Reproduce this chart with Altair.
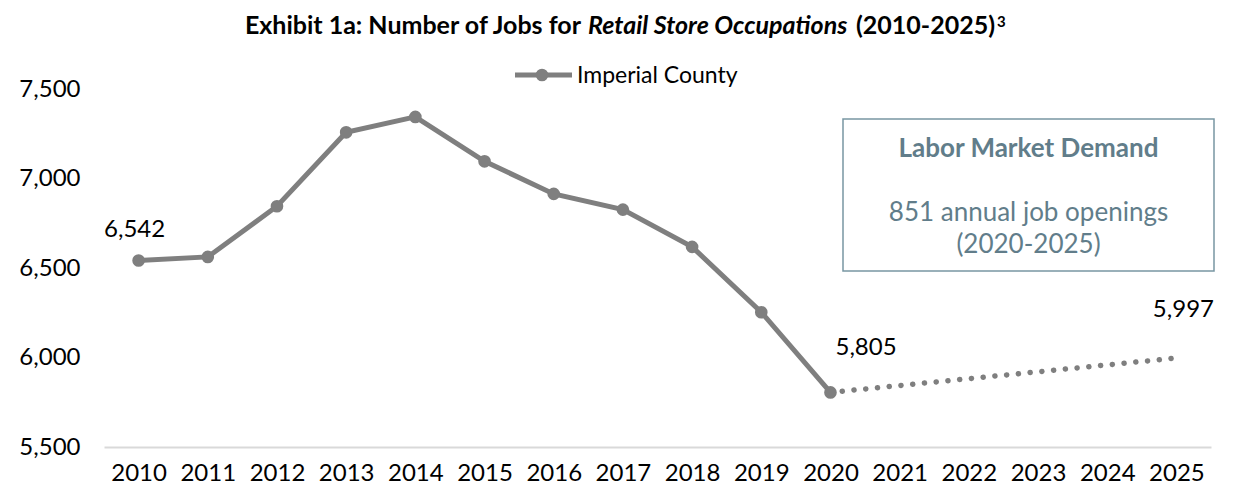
import altair as alt
import pandas as pd

# ---- data ----
years = [2010, 2011, 2012, 2013, 2014, 2015, 2016, 2017, 2018, 2019, 2020]
jobs = [6542, 6562, 6845, 7258, 7344, 7096, 6914, 6826, 6618, 6253, 5805]
proj_years = [2020, 2025]
proj_jobs = [5805, 5997]
tick_years = list(range(2010, 2026))
y_ticks = [5500, 6000, 6500, 7000, 7500]
label_years = [2010, 2020, 2025]
label_values = [6542, 5805, 5997]
series_name = "Imperial County"

FONT = "Lato"
GRAY = "#7f7f7f"
BOX_EDGE = "#7896a3"
BOX_TEXT = "#617d8a"

hist = pd.DataFrame({"year": years, "jobs": jobs})
proj = pd.DataFrame({"year": proj_years, "jobs": proj_jobs})
labs = pd.DataFrame({"year": label_years, "jobs": label_values})

W, H = 1107, 358

xs = alt.Scale(domain=[2009.5, 2025.5], nice=False, zero=False)
ys = alt.Scale(domain=[5500, 7500], nice=False, zero=False)

x_enc = alt.X("year:Q", scale=xs,
              axis=alt.Axis(values=tick_years, format="d", title=None, grid=False,
                            ticks=False, domain=True, domainColor="#d9d9d9", domainWidth=2,
                            labelFont=FONT, labelFontSize=24, labelColor="#000000",
                            labelPadding=14, labelFlush=False, labelOverlap=False))
y_enc = alt.Y("jobs:Q", scale=ys,
              axis=alt.Axis(values=y_ticks, format=",d", title=None, grid=False,
                            ticks=False, domain=False,
                            labelFont=FONT, labelFontSize=24, labelColor="#000000",
                            labelPadding=24))

line = alt.Chart(hist).mark_line(color=GRAY, strokeWidth=5).encode(x=x_enc, y=y_enc)
pts = alt.Chart(hist).mark_point(filled=True, color=GRAY, size=160, opacity=1).encode(
    x="year:Q", y="jobs:Q")
dots = alt.Chart(proj).mark_line(color=GRAY, strokeWidth=5.5, strokeDash=[0.1, 11.7],
                                 strokeCap="round").encode(x="year:Q", y="jobs:Q")

def value_label(yr, dx, dy, align):
    return alt.Chart(labs).transform_filter(alt.datum.year == yr).mark_text(
        font=FONT, fontSize=24, color="#000000", align=align, baseline="middle",
        dx=dx, dy=dy).encode(x="year:Q", y="jobs:Q", text=alt.Text("jobs:Q", format=",d"))

lab1 = value_label(2010, -4, -30, "center")
lab2 = value_label(2020, 5, -44, "left")
lab3 = value_label(2025, 7, -48, "center")

one = pd.DataFrame({"k": [0]})

# legend (manual)
leg_line = alt.Chart(one).mark_rule(color=GRAY, strokeWidth=5).encode(
    x=alt.value(411), x2=alt.value(468), y=alt.value(-14))
leg_pt = alt.Chart(one).mark_point(filled=True, color=GRAY, size=160, opacity=1).encode(
    x=alt.value(438), y=alt.value(-14))
leg_txt = alt.Chart(one).mark_text(font=FONT, fontSize=23, align="left", baseline="middle",
                                   color="#000000").encode(
    x=alt.value(473), y=alt.value(-13), text=alt.value(series_name))

# text box
BX = 924.5
box = alt.Chart(one).mark_rect(fill="white", stroke=BOX_EDGE, strokeWidth=1.5).encode(
    x=alt.value(739), x2=alt.value(1110), y=alt.value(30), y2=alt.value(182))
box_t1 = alt.Chart(one).mark_text(font=FONT, fontSize=26, fontWeight="bold", color=BOX_TEXT,
                                  align="center", baseline="middle").encode(
    x=alt.value(BX), y=alt.value(60), text=alt.value("Labor Market Demand"))
box_t2 = alt.Chart(one).mark_text(font=FONT, fontSize=26, color=BOX_TEXT,
                                  align="center", baseline="middle").encode(
    x=alt.value(BX), y=alt.value(124), text=alt.value("851 annual job openings"))
box_t3 = alt.Chart(one).mark_text(font=FONT, fontSize=26, color=BOX_TEXT,
                                  align="center", baseline="middle").encode(
    x=alt.value(BX), y=alt.value(156), text=alt.value("(2020-2025)"))

# title pieces
TY = -63
TS = 25
t_a = alt.Chart(one).mark_text(font=FONT, fontSize=TS, fontWeight="bold", color="#000000",
                               align="right", baseline="middle").encode(
    x=alt.value(477), y=alt.value(TY), text=alt.value("Exhibit 1a: Number of Jobs for"))
t_b = alt.Chart(one).mark_text(font=FONT, fontSize=TS, fontWeight="bold", fontStyle="italic",
                               color="#000000", align="left", baseline="middle").encode(
    x=alt.value(484), y=alt.value(TY), text=alt.value("Retail Store Occupations"))
t_c = alt.Chart(one).mark_text(font=FONT, fontSize=TS, fontWeight="bold", color="#000000",
                               align="left", baseline="middle").encode(
    x=alt.value(752), y=alt.value(TY), text=alt.value("(2010-2025)"))
t_d = alt.Chart(one).mark_text(font=FONT, fontSize=15, fontWeight="bold", color="#000000",
                               align="left", baseline="middle").encode(
    x=alt.value(893), y=alt.value(TY - 4), text=alt.value("3"))

chart = alt.layer(
    line, dots, pts, lab1, lab2, lab3,
    leg_line, leg_pt, leg_txt,
    box, box_t1, box_t2, box_t3,
    t_a, t_b, t_c, t_d,
).properties(
    width=W, height=H,
    padding={"left": 96, "top": 81, "right": 10, "bottom": 45},
    autosize=alt.AutoSizeParams(type="none"),
    background="white",
).configure_view(stroke=None, strokeWidth=0)

chart.save("out.html", embed_options={"renderer": "svg", "actions": False})
